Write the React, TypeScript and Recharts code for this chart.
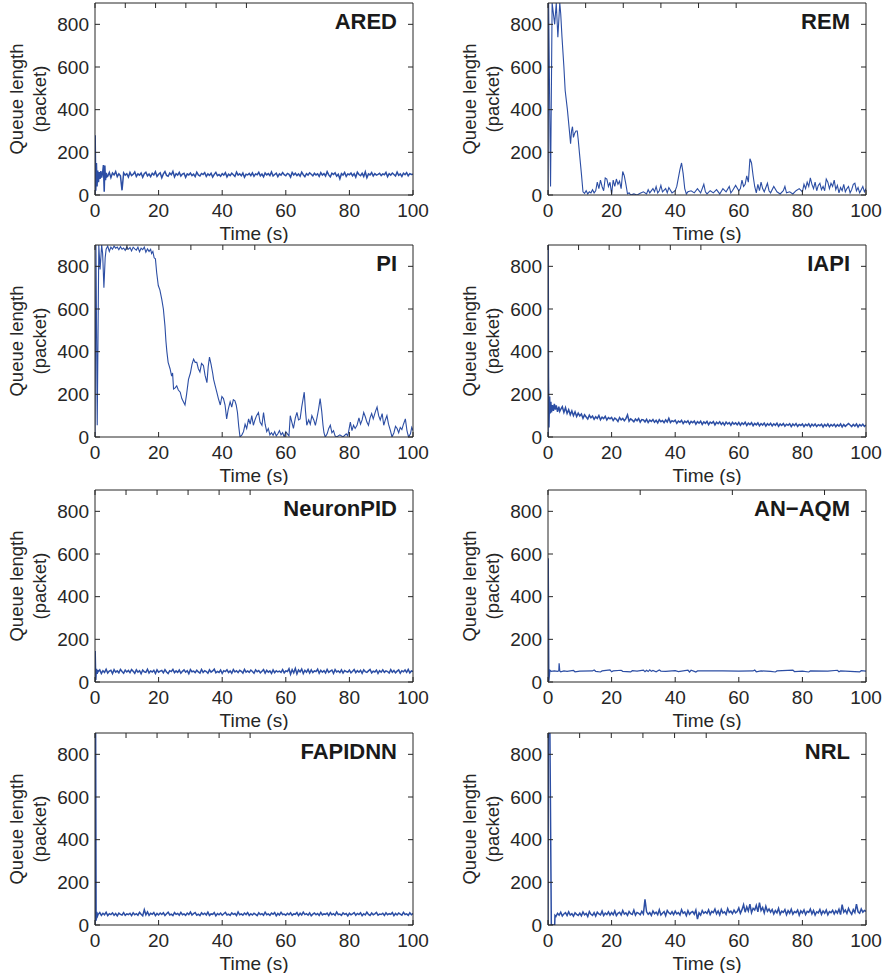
import React from 'react';
import { LineChart, Line, XAxis, YAxis } from 'recharts';

type Pair = [number, number];

const xTicks = [0, 20, 40, 60, 80, 100];
const yTicks = [0, 200, 400, 600, 800];
const titles = ['ARED', 'REM', 'PI', 'IAPI', 'NeuronPID', 'AN\u2212AQM', 'FAPIDNN', 'NRL'];

// ARED
const aredHead: Pair[] = [[0,0],[0.05,280],[0.25,20],[0.45,150],[0.65,40],[0.85,115],[1.1,60],[1.35,108],[1.6,75],[1.85,112],[2.1,82],[2.4,105],[2.65,140],[2.9,15],[3.1,138],[3.3,70],[3.55,104],[3.8,86]];
const aredTail: number[] = [
  88,106,82,103,94,110,86,99,90,22,104,93,
  100,84,106,91,97,108,87,99,93,103,83,100,107,90,98,86,102,94,109,87,
  97,104,81,99,110,92,88,103,95,111,85,100,93,106,89,98,102,83,99,94,
  103,91,98,86,107,94,89,101,96,105,87,99,92,102,84,97,106,91,96,88,
  100,93,105,85,98,91,102,95,87,107,93,99,90,103,83,97,94,101,91,104,
  88,99,95,106,90,98,85,103,94,100,91,108,89,96,102,86,99,93,105,95,
  90,101,97,84,106,94,102,91,99,88,107,95,86,100,93,104,97,90,102,94,
  99,87,105,93,100,89,109,94,85,102,96,104,88,97,76,100,93,106,87,99,
  95,103,90,100,84,107,96,91,102,87,109,81,99,94,105,89,100,93,97,102,
  91,99,95,106,86,100,93,103,96,89,107,92,99,87,102,95,105,90,100,96,
  97,
];

// REM
const remPairs: Pair[] = [[0,0],[0.2,900],[0.8,40],[1.3,900],[2.1,800],[2.6,900],[3.1,740],[3.7,900],[4,850],[4.4,740],[5,600],[5.4,490],[6.1,400],[6.8,290],[7.1,240],[7.4,300],[7.7,320],[8,270],[8.4,290],[8.8,300],[9.2,300],[9.5,260],[9.9,195],[10.5,100],[11,15],[11.5,8],[12,20],[12.5,5],[13,15],[13.5,10],[14,25],[14.5,10],[15,20],[15.5,60],[16,30],[16.5,70],[17,40],[17.5,20],[18,80],[18.5,75],[19,40],[19.5,60],[20,5],[20.5,70],[21,40],[21.5,75],[22,50],[22.5,65],[23,30],[23.5,110],[24,90],[24.5,50],[25,5],[25.5,10],[26,0],[27,5],[28,0],[29,8],[30,15],[31,5],[31.5,25],[32,10],[33,30],[33.5,15],[34,40],[34.5,10],[35,20],[35.5,45],[36,15],[37,30],[37.5,10],[38,35],[39,10],[40,20],[40.5,40],[41,80],[41.5,120],[42,150],[42.5,100],[43,30],[43.5,5],[44,15],[45,20],[46,10],[47,30],[48,10],[49,50],[49.5,15],[50,5],[51,20],[52,10],[53,25],[54,5],[55,30],[56,15],[57,40],[57.5,10],[58,20],[59,45],[60,20],[60.5,30],[61,70],[61.5,40],[62,50],[62.5,90],[63,60],[63.5,170],[64,150],[64.5,90],[65,40],[65.5,10],[66,50],[66.5,20],[67,60],[67.5,30],[68,15],[69,55],[69.5,20],[70,10],[71,40],[72,15],[73,5],[74,20],[74.5,40],[75,10],[76,15],[77,5],[78,20],[79,30],[80,15],[80.5,50],[81,30],[81.5,60],[82,40],[82.5,80],[83,50],[83.5,30],[84,60],[84.5,20],[85,45],[85.5,55],[86,25],[86.5,40],[87,20],[87.5,75],[88,60],[88.5,30],[89,55],[89.5,40],[90,70],[90.5,25],[91,45],[91.5,10],[92,35],[92.5,20],[93,50],[93.5,15],[94,30],[94.5,40],[95,10],[95.5,25],[96,50],[96.5,55],[97,20],[97.5,35],[98,10],[98.5,25],[99,40],[99.5,15],[100,30]];

// PI
const piPairs: Pair[] = [[0,0],[0.3,900],[0.7,55],[1.2,900],[1.6,785],[2.1,900],[2.4,860],[2.8,700],[3.2,840],[3.5,880],[4,895],[4.5,870],[5,890],[5.5,880],[6,895],[6.5,885],[7,890],[7.5,878],[8,892],[8.5,880],[9,886],[9.5,875],[10,890],[10.5,880],[11,888],[11.5,872],[12,890],[12.5,882],[13,876],[13.5,890],[14,868],[14.5,885],[15,878],[15.5,890],[16,866],[16.5,882],[17,870],[17.5,880],[17.8,860],[18.2,870],[18.6,840],[19,835],[19.4,770],[19.9,710],[20.4,690],[21,645],[21.5,600],[22,520],[22.3,450],[22.6,400],[23,350],[23.6,320],[24.1,285],[24.4,300],[24.7,225],[25.2,230],[25.7,240],[26.2,220],[26.8,210],[27.3,180],[27.8,165],[28.3,150],[28.8,200],[29.4,270],[30,300],[30.5,340],[31,365],[31.5,350],[32,350],[32.5,320],[33,305],[33.5,345],[34.1,335],[34.6,290],[35.2,255],[35.6,330],[36,375],[36.5,340],[37,300],[37.3,270],[37.8,240],[38.3,210],[38.8,180],[39.4,150],[39.9,190],[40.4,180],[40.9,150],[41.4,85],[41.9,130],[42.5,165],[43,140],[43.5,175],[44,170],[44.4,150],[44.8,115],[45.2,50],[45.6,0],[46.2,10],[46.7,25],[47.2,60],[47.7,40],[48.3,85],[48.8,60],[49.3,100],[49.8,55],[50.3,80],[50.8,100],[51.4,115],[51.9,70],[52.5,55],[53,115],[53.5,60],[54,25],[54.5,40],[55,10],[55.5,20],[56,8],[56.5,25],[57,5],[57.5,15],[58,30],[58.5,10],[59,20],[59.5,0],[60,25],[60.5,15],[61,5],[61.4,100],[61.9,70],[62.4,40],[63,90],[63.5,115],[64,80],[64.5,85],[65,140],[65.8,210],[66.2,120],[66.6,55],[67.2,80],[67.7,60],[68.2,100],[68.8,80],[69.3,55],[69.8,90],[70.3,130],[70.8,180],[71.3,120],[71.7,55],[72,20],[72.4,0],[73,15],[73.5,40],[74,55],[74.5,20],[75,30],[75.5,5],[76,0],[77,10],[78,0],[79,15],[79.5,5],[80.3,70],[80.8,30],[81.3,55],[81.8,40],[82.4,55],[83,90],[83.5,60],[84,80],[84.5,115],[85,95],[85.5,70],[86,55],[86.5,90],[87,110],[87.5,85],[88.2,120],[88.7,140],[89.2,100],[89.7,80],[90.3,110],[90.8,55],[91.3,80],[91.8,100],[92.3,60],[92.9,30],[93.4,0],[94,20],[94.5,50],[95,40],[95.5,20],[96,45],[96.5,35],[97,60],[97.6,85],[98.1,30],[98.6,0],[99.2,15],[99.6,45],[100,30]];

// IAPI
const iapiHead: Pair[] = [[0,0],[0.05,900],[0.15,285],[0.3,45],[0.5,190],[0.7,110],[0.9,165],[1.1,115],[1.4,150],[1.7,122],[2,155],[2.3,128],[2.6,148],[3,118],[3.4,142],[3.7,120]];
const iapiTail: number[] = [
  130,142,115,138,110,128,104,122,100,118,96,112,
  99,108,88,104,94,84,102,90,98,83,95,87,101,81,93,86,97,80,91,85,
  92,77,89,83,73,91,80,87,76,86,104,74,85,79,71,84,76,87,70,82,
  80,71,83,68,79,73,82,69,78,66,81,72,77,67,80,70,88,68,76,72,
  79,64,75,69,78,63,74,68,76,61,73,67,75,60,72,65,74,59,71,64,
  73,58,70,64,72,57,69,62,71,59,68,56,70,61,67,55,69,60,66,57,
  68,55,66,59,69,54,65,58,67,53,64,57,66,52,63,56,65,51,62,55,
  64,52,62,55,65,50,61,54,63,51,60,55,62,49,61,53,63,50,59,54,
  61,49,59,53,62,48,60,52,61,49,58,53,60,47,59,51,61,48,58,52,
  60,48,58,51,61,47,59,50,57,63,56,49,59,51,61,47,58,52,60,50,
  56,
];

// NeuronPID
const npidHead: Pair[] = [[0,0],[0.05,145],[0.25,10],[0.45,62],[0.7,38],[0.85,56]];
const npidTail: number[] = [
  48,57,40,53,45,60,42,51,55,39,58,46,52,43,59,49,41,56,47,54,
  44,58,50,41,57,46,53,39,56,48,45,60,42,52,47,55,40,57,46,51,
  54,43,58,47,40,53,49,59,44,52,45,56,41,50,57,46,53,39,58,48,
  51,44,55,47,42,59,45,53,49,41,57,46,52,60,43,50,45,56,40,53,
  49,57,44,52,41,58,47,53,44,55,50,42,59,46,52,45,56,49,41,57,
  48,54,43,50,58,42,55,46,52,40,57,44,53,47,51,45,58,43,52,49,
  62,36,58,43,64,38,56,47,61,40,55,46,59,42,57,44,52,49,60,41,
  55,46,53,42,59,45,51,56,40,58,47,52,44,57,42,54,49,46,56,43,
  50,58,44,53,46,55,41,57,49,45,52,59,43,51,47,56,40,53,46,57,
  45,52,49,42,58,46,54,43,51,57,41,53,48,56,45,59,43,52,49,55,
];

// AN-AQM
const anaqmPairs: Pair[] = [[0,0],[0.1,580],[0.3,5],[0.6,55],[1,50],[2,52],[3,50],[3.4,52],[3.5,88],[3.7,52],[4,48],[5,52],[6,50],[8,54],[8.5,48],[10,51],[14,52],[14.5,56],[15,50],[16.5,47],[17,52],[19.5,57],[20,48],[20.5,52],[23,55],[23.5,50],[26,47],[26.5,53],[28,51],[30,56],[30.5,48],[31,55],[31.5,49],[32,57],[32.5,50],[33,54],[34,48],[35,56],[35.5,51],[37,50],[40,53],[41,49],[44,56],[44.5,47],[45,55],[46,50],[46.5,47],[47,52],[55,52],[60,51],[64.5,52],[65,56],[65.5,48],[67,52],[70,50],[71.5,47],[72,52],[77,56],[77.5,49],[80,51],[82,47],[82.5,52],[88,51],[91,55],[91.5,48],[92,52],[95,50],[98,47],[98.5,53],[100,51]];

// FAPIDNN
const fapHead: Pair[] = [[0,0],[0.05,900],[0.2,900],[0.35,20],[0.55,62],[0.8,42]];
const fapTail: number[] = [
  50,58,45,55,48,60,44,53,49,57,46,54,43,56,50,47,58,45,52,49,
  55,44,57,48,53,46,59,50,43,72,48,61,45,55,50,58,44,54,47,56,
  49,57,45,53,60,47,51,44,58,50,54,46,59,48,52,45,56,49,61,47,
  53,58,46,51,44,57,49,55,47,60,45,52,50,58,43,54,48,56,46,53,
  59,47,51,45,57,50,54,44,61,48,52,46,56,49,58,45,53,47,55,50,
  44,57,49,53,46,60,48,52,45,56,50,58,43,54,47,59,49,51,46,55,
  48,57,45,52,50,58,44,55,47,60,49,53,46,57,43,51,56,48,54,45,
  59,47,52,50,56,44,58,48,53,46,61,49,51,45,57,50,54,43,55,48,
  52,58,46,54,49,57,44,53,47,60,50,45,56,48,52,59,46,51,49,55,
  45,57,48,53,50,58,44,54,47,56,51,46,59,49,52,45,57,48,53,50,
];

// NRL
const nrlHead: Pair[] = [[0,0],[0.1,900],[0.6,900],[1.05,0],[2.1,0],[2.2,45]];
const nrlTail: number[] = [
  40,55,46,60,42,52,58,44,62,47,53,41,57,50,45,
  56,43,61,48,54,40,63,50,45,58,42,60,52,47,65,44,56,49,62,46,
  58,48,66,44,55,60,47,68,51,57,45,63,53,49,70,46,59,55,48,64,
  52,120,62,50,58,45,66,53,60,48,71,47,55,63,44,68,57,51,62,49,
  65,52,58,47,72,55,61,44,67,50,59,63,50,70,28,57,46,68,55,62,
  54,71,49,64,58,75,52,66,47,73,56,62,50,77,59,65,53,70,57,63,
  80,55,72,95,60,85,66,98,58,78,70,92,62,105,68,82,57,88,64,75,
  60,73,52,68,57,78,50,65,59,72,48,67,55,74,51,63,58,70,46,66,
  56,71,49,64,59,75,52,68,47,62,57,73,50,66,55,70,48,63,58,69,
  52,67,56,74,49,95,60,70,54,78,61,50,72,58,98,62,55,75,60,68,
  64,
];

type Pt = { t: number; q: number };

function build(head: Pair[], tail: number[] = [], tailStart = 0, step = 0.5): Pt[] {
  const pts: Pt[] = head.map(([t, q]) => ({ t, q }));
  tail.forEach((q, i) => pts.push({ t: tailStart + i * step, q }));
  return pts;
}

const seriesData: Pt[][] = [
  build(aredHead, aredTail, 4),
  build(remPairs),
  build(piPairs),
  build(iapiHead, iapiTail, 4),
  build(npidHead, npidTail, 1),
  build(anaqmPairs),
  build(fapHead, fapTail, 1),
  build(nrlHead, nrlTail, 2.5),
];

const lineWidths = [1.5, 1.1, 1.1, 1.5, 1.5, 1.2, 1.5, 1.5];

const FONT = '"Liberation Sans", Arial, Helvetica, sans-serif';
const BLUE = '#2c4ea4';
const AX = '#262626';
const TXT = '#262626';
const CHART_W = 433;
const CHART_H = 243;
const PLOT_L = 95;
const PLOT_R = 413;
const PLOT_T = 3;
const PLOT_B = 195;

const colLeft = [0, 453];
const rowTop = [0, 242, 487, 730];

const empty = () => '';

function Panel({ title, data, left, top, lw }: { title: string; data: Pt[]; left: number; top: number; lw: number }) {
  return (
    <div style={{ position: 'absolute', left, top, width: CHART_W, height: CHART_H }}>
      <LineChart width={CHART_W} height={CHART_H} data={data} margin={{ top: 2, right: 19, bottom: 0, left: 0 }}>
        <XAxis
          xAxisId="b"
          dataKey="t"
          type="number"
          orientation="bottom"
          domain={[0, 100]}
          ticks={xTicks}
          interval={0}
          allowDataOverflow
          height={48}
          tickSize={-5}
          tickMargin={14}
          stroke={AX}
          tick={{ fill: TXT, fontSize: 19, fontFamily: FONT }}
          label={() => (
            <text x={(PLOT_L + PLOT_R) / 2} y={239.5} textAnchor="middle" fontSize={19} fontFamily={FONT} fill={TXT}>
              Time (s)
            </text>
          )}
        />
        <XAxis
          xAxisId="t"
          type="number"
          orientation="top"
          domain={[0, 100]}
          ticks={xTicks}
          interval={0}
          allowDataOverflow
          height={1}
          tickSize={-5}
          tickFormatter={empty}
          stroke={AX}
          label={() => (
            <text x={PLOT_R - 16} y={PLOT_T + 26} textAnchor="end" fontSize={22} fontWeight="bold" fontFamily={FONT} fill="#1a1a1a">
              {title}
            </text>
          )}
        />
        <YAxis
          yAxisId="l"
          type="number"
          orientation="left"
          domain={[0, 900]}
          ticks={yTicks}
          interval={0}
          allowDataOverflow
          width={PLOT_L}
          tickSize={-5}
          tickMargin={11}
          stroke={AX}
          tick={{ fill: TXT, fontSize: 19, fontFamily: FONT }}
          label={() => (
            <g>
              <text transform={`translate(23, ${(PLOT_T + PLOT_B) / 2}) rotate(-90)`} textAnchor="middle" fontSize={18.5} fontFamily={FONT} fill={TXT}>
                Queue length
              </text>
              <text transform={`translate(46, ${(PLOT_T + PLOT_B) / 2}) rotate(-90)`} textAnchor="middle" fontSize={18.5} fontFamily={FONT} fill={TXT}>
                (packet)
              </text>
            </g>
          )}
        />
        <YAxis
          yAxisId="r"
          type="number"
          orientation="right"
          domain={[0, 900]}
          ticks={yTicks}
          interval={0}
          allowDataOverflow
          width={1}
          tickSize={-5}
          tickFormatter={empty}
          stroke={AX}
        />
        <Line
          xAxisId="b"
          yAxisId="l"
          type="linear"
          dataKey="q"
          stroke={BLUE}
          strokeWidth={lw}
          strokeLinejoin="miter"
          dot={false}
          activeDot={false}
          isAnimationActive={false}
        />
      </LineChart>
    </div>
  );
}

export default function App() {
  return (
    <div style={{ position: 'absolute', left: 0, top: 0, width: 887, height: 980, background: '#fff' }}>
      {titles.map((title, i) => (
        <Panel
          key={title}
          title={title}
          data={seriesData[i]}
          lw={lineWidths[i]}
          left={colLeft[i % 2]}
          top={rowTop[Math.floor(i / 2)]}
        />
      ))}
    </div>
  );
}
